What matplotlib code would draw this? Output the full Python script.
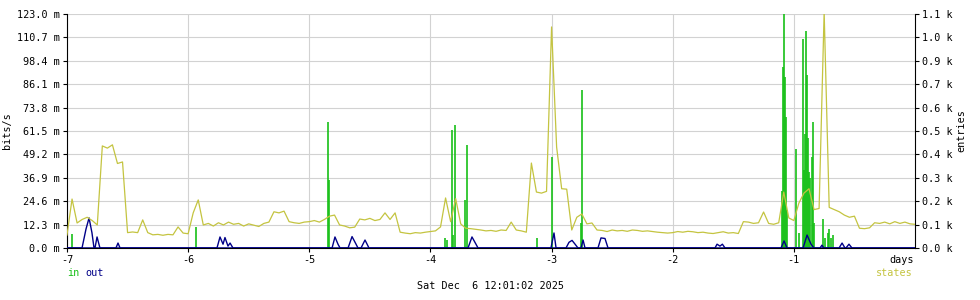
import numpy as np
import matplotlib
matplotlib.use("Agg")
import matplotlib.pyplot as plt

# ── data ─────────────────────────────────────────────────────────────────────
# states (entries), one value per hour from -7 days to now
states = [
    59, 223, 114, 130, 140, 125, 105, 465, 455, 470, 385, 392,
    70, 73, 70, 128, 70, 60, 62, 58, 62, 60, 96, 68,
    65, 160, 219, 105, 112, 100, 115, 105, 118, 108, 112, 100,
    110, 104, 98, 112, 118, 165, 160, 168, 120, 115, 112, 118,
    120, 125, 118, 130, 145, 150, 105, 100, 92, 95, 132, 128,
    135, 125, 130, 160, 130, 160, 72, 68, 65, 70, 68, 72,
    75, 78, 96, 228, 120, 225, 110, 90, 88, 85, 82, 78,
    80, 76, 82, 80, 118, 82, 78, 72, 387, 255, 250, 258,
    1007, 460, 270, 268, 82, 140, 155, 110, 114, 82, 80, 75,
    82, 78, 80, 76, 82, 80, 76, 78, 75, 72, 70, 68,
    70, 75, 72, 76, 74, 70, 72, 68, 66, 70, 74, 68,
    70, 66, 120, 118, 112, 115, 164, 112, 108, 115, 255, 137,
    125, 205, 250, 270, 175, 180, 1075, 185, 175, 165, 150, 140,
    145, 90, 88, 92, 115, 112, 118, 110, 120, 112, 118, 110,
    108,
]
state_days = -7 + np.arange(len(states)) / 24

# in traffic spikes (bits/s, milli)
in_days = [-6.959, -5.935, -4.845, -4.837, -3.880, -3.863, -3.822, -3.814,
           -3.797, -3.715, -3.698, -3.120, -2.996, -2.757, -2.749,
           -1.098, -1.090, -1.081, -1.073, -1.065, -1.056, -0.982, -0.957,
           -0.924, -0.916, -0.908, -0.899, -0.891, -0.883, -0.875, -0.867,
           -0.850, -0.842, -0.834, -0.759, -0.743, -0.718, -0.710, -0.693,
           -0.677]
in_vals = [7.4, 11, 66, 36, 5, 4, 62, 7,
           64.6, 25, 54, 5, 48, 13, 83,
           30, 95, 123, 90, 69, 20, 52, 8,
           110, 41, 60, 114, 91, 58, 40, 37,
           48, 66, 13, 15, 5, 8, 10, 5,
           7]

# out traffic (bits/s, milli)
out_days = [-7.0, -6.876, -6.843, -6.818, -6.794, -6.777, -6.769, -6.752, -6.728,
            -6.596, -6.579, -6.562,
            -5.762, -5.737, -5.712, -5.696, -5.671, -5.654, -5.630,
            -4.812, -4.788, -4.763, -4.746, -4.680, -4.647, -4.614, -4.598,
            -4.573, -4.540, -4.507,
            -3.690, -3.657, -3.624, -3.607,
            -3.005, -2.980, -2.963, -2.881, -2.856, -2.831, -2.806, -2.782,
            -2.757, -2.740, -2.724, -2.617, -2.592, -2.559, -2.534,
            -1.651, -1.634, -1.610, -1.590, -1.568,
            -1.106, -1.081, -1.056, -0.924, -0.891, -0.858, -0.834,
            -0.784, -0.768, -0.752, -0.627, -0.602, -0.578,
            -0.570, -0.545, -0.520, 0.0]
out_vals = [0, 0, 10, 15.8, 8, 0, 0, 5.8, 0,
            0, 2.6, 0,
            0, 5.8, 2, 5.5, 1, 2.6, 0,
            0, 5.8, 2, 0, 0, 6, 2, 0,
            0, 4.2, 0,
            0, 5.8, 2, 0,
            0, 7.9, 0, 0, 3, 4, 2, 0,
            0, 4.2, 0, 0, 5.3, 5, 0,
            0, 2, 1, 2, 0,
            0, 3.7, 0, 0, 6.8, 2, 0,
            0, 1.5, 0, 0, 2.6, 0,
            0, 2, 0, 0]

left_ticks = [0.0, 12.3, 24.6, 36.9, 49.2, 61.5, 73.8, 86.1, 98.4, 110.7, 123.0]
right_labels = ["0.0", "0.1", "0.2", "0.3", "0.4", "0.5", "0.6", "0.7", "0.9", "1.0", "1.1"]
day_ticks = [-7, -6, -5, -4, -3, -2, -1]
STATES_TOP = 1066

GREEN = "#18c018"
BLUE = "#000088"
OLIVE = "#c4c440"
FONT = "DejaVu Sans Mono"
FS = 7.3

plt.rcParams["font.family"] = FONT
fig = plt.figure(figsize=(9.8, 3.0), dpi=100)
ax = fig.add_axes([67/980, 1 - 248/300, 848/980, 234/300])
ax2 = ax.twinx()

ax.set_xlim(-7, 0)
ax.set_ylim(0, 123.0)
ax2.set_ylim(0, STATES_TOP)

ax.set_yticks(left_ticks)
ax.set_yticklabels([f"{v:.1f} m" for v in left_ticks], fontsize=FS)
ax2.set_yticks(np.arange(len(right_labels)) * STATES_TOP / 10)
ax2.set_yticklabels([f"{s} k" for s in right_labels], fontsize=FS)
ax.set_xticks(day_ticks)
ax.set_xticklabels([str(d) for d in day_ticks], fontsize=FS)

ax.grid(True, color="#d2d2d2", lw=0.8)
ax.set_axisbelow(True)
for a in (ax, ax2):
    a.spines["top"].set_visible(False)
    a.tick_params(length=3, width=0.8, pad=2)
ax2.spines["left"].set_visible(False)
ax2.spines["bottom"].set_visible(False)
ax.spines["right"].set_visible(False)

ax.vlines(in_days, 0, in_vals, color=GREEN, lw=1.2, zorder=3)
ax.plot(out_days, out_vals, color=BLUE, lw=1.0, zorder=4)
ax.axhline(0, color=BLUE, lw=1.8, zorder=5)
ax2.plot(state_days, states, color=OLIVE, lw=0.9, zorder=3)

ax.set_ylabel("bits/s", fontsize=FS, labelpad=4)
ax2.set_ylabel("entries", fontsize=FS, labelpad=3)

fig.text(889/980, 1 - 260/300, "days", fontsize=FS, va="center", ha="left")
fig.text(67/980, 1 - 273/300, "in", color=GREEN, fontsize=FS, va="center")
fig.text(85/980, 1 - 273/300, "out", color=BLUE, fontsize=FS, va="center")
fig.text(913/980, 1 - 273/300, "states", color=OLIVE, fontsize=FS, va="center", ha="right")
fig.text(490/980, 1 - 286/300, "Sat Dec  6 12:01:02 2025", fontsize=FS, va="center", ha="center")

fig.savefig("out.png", dpi=100)
